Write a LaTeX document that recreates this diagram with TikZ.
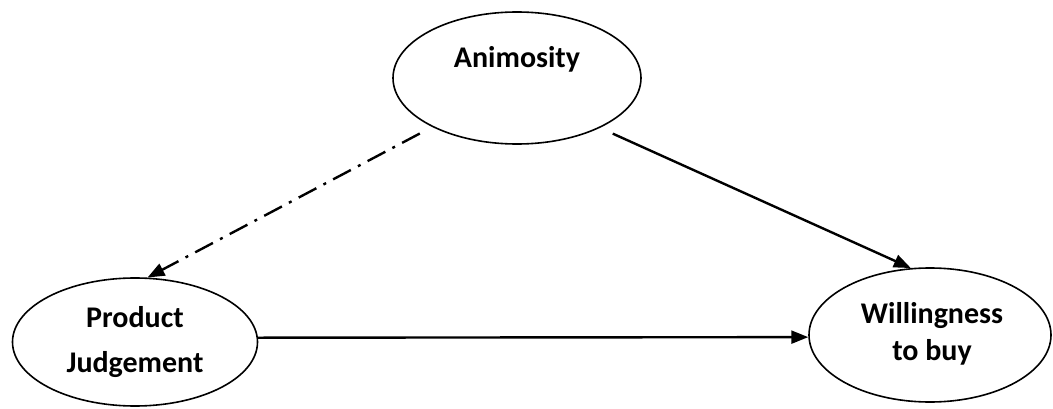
\documentclass[tikz,border=0pt]{standalone}
\usepackage{fontspec}
\setmainfont{Carlito}
\usetikzlibrary{arrows.meta,shapes.geometric}
\begin{document}
\begin{tikzpicture}[x=1pt,y=-1pt,
  oval/.style={draw, ellipse, line width=1.6pt, inner sep=0pt},
  lbl/.style={font=\fontsize{30}{37}\selectfont\bfseries, anchor=base, inner sep=0pt},
  arr/.style={line width=2.4pt, -{Triangle[length=17pt,width=13pt]}},
  dashdot/.style={dash pattern=on 20pt off 8pt on 3pt off 8pt}
]
\useasboundingbox (0,0) rectangle (1053,409);
\node[oval, minimum width=248pt, minimum height=132pt] (anim) at (517,78) {};
\node[oval, minimum width=245pt, minimum height=128pt] (pj) at (135,342) {};
\node[oval, minimum width=242pt, minimum height=134pt] (will) at (930,335) {};

\node[lbl] (tanim) at (517,68) {Animosity};
\node[lbl] (tpj1) at (135,327) {Product};
\node[lbl] (tpj2) at (135,372) {Judgement};
\node[lbl] (tw1) at (932,323) {Willingness};
\node[lbl] (tw2) at (932,360) {to buy};

\draw[arr, dashdot, shorten <=14pt] (anim.210) -- (pj.79);
\draw[arr, shorten <=14pt] (anim.329) -- (will.106.6);
\draw[arr] (pj.2) -- (will.181.4);
\end{tikzpicture}
\end{document}
